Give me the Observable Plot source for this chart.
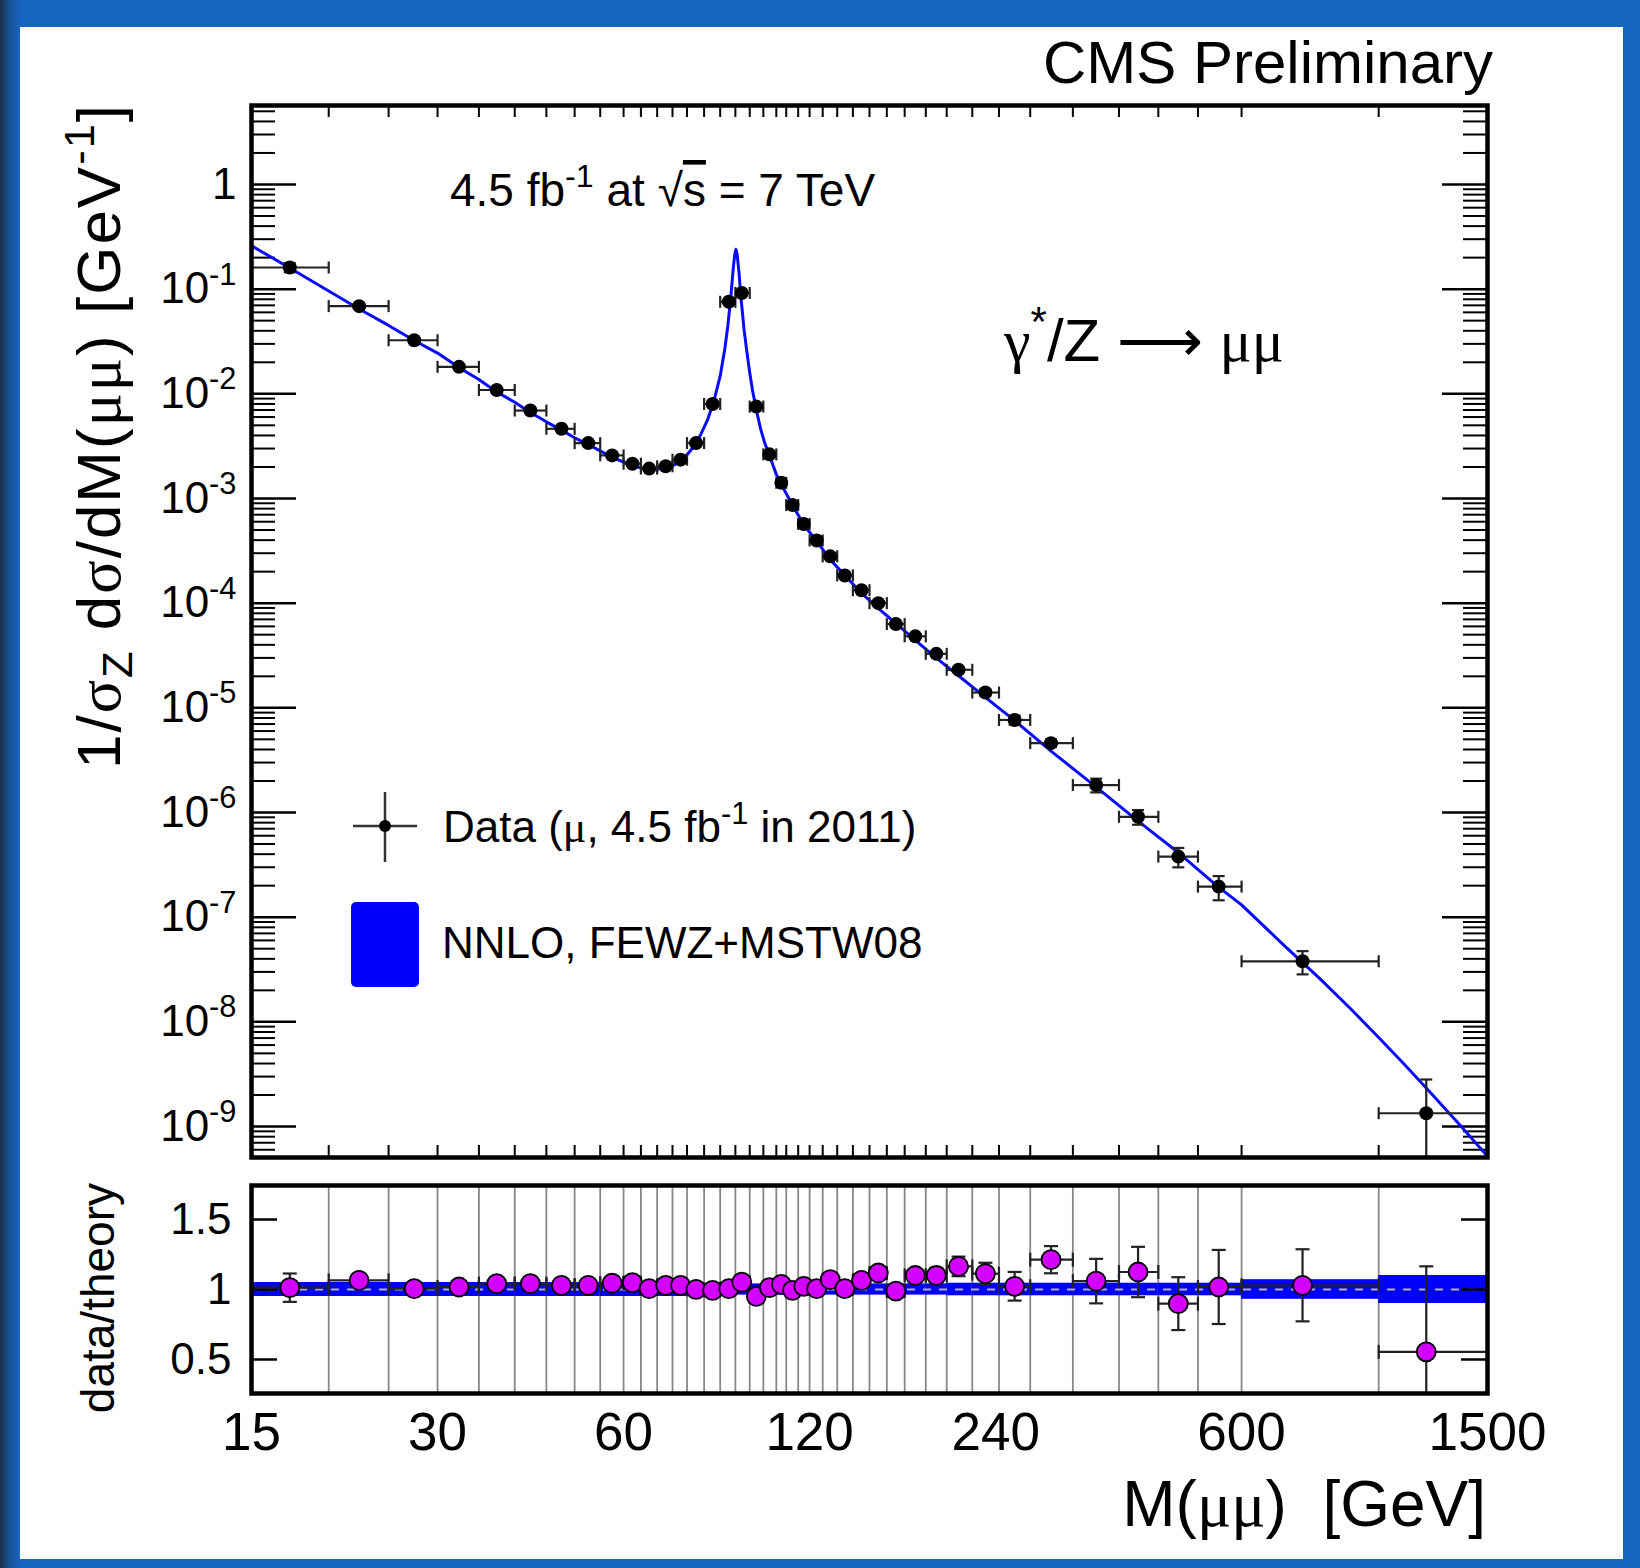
<!DOCTYPE html>
<html>
<head>
<meta charset="utf-8">
<script src="https://cdn.jsdelivr.net/npm/d3@7"></script>
<script src="https://cdn.jsdelivr.net/npm/@observablehq/plot@0.6"></script>
<style>
  html, body { margin:0; padding:0; overflow:hidden; background:#1565c0; }
  #fig { position:relative; width:1640px; height:1568px; overflow:hidden;
         background: linear-gradient(90deg, #1d2f48 0px, #1a4f93 9px, #1565c0 20px, #1565c0 100%); }
  #paper { position:absolute; left:20px; top:27px; width:1603px; height:1532px; background:#fff; }
  #fig > svg { position:absolute; left:0; }
</style>
</head>
<body>
<div id="fig"><div id="paper"></div></div>
<script>
// ---------------- data ----------------
const binLo = [15,20,25,30,35,40,45,50,55,60,64,68,72,76,81,86,91,96,101,106,110,115,120,126,133,141,150,160,171,185,200,220,243,273,320,380,440,510,600,1000];
const binHi = [20,25,30,35,40,45,50,55,60,64,68,72,76,81,86,91,96,101,106,110,115,120,126,133,141,150,160,171,185,200,220,243,273,320,380,440,510,600,1000,1500];
const massMean = [17.3,22.4,27.5,32.5,37.4,42.4,47.6,52.6,57.5,62,66,70.2,74.2,78.6,83.6,88.8,93.2,98.4,103.3,108,112.6,117.4,123.2,129.6,136.8,145.6,155,165.5,177.9,192.4,209,231,257.6,295,349,408,474,551,753,1194];
const dsigma = [0.161,0.0688,0.0325,0.0181,0.01087,0.00692,0.00463,0.00338,0.00258,0.00215,
  0.00193,0.00203,0.00235,0.00338,0.0080,0.0757,0.092,0.00755,0.00264,0.00141,
  0.000865,5.71e-4,3.97e-4,2.80e-4,1.84e-4,1.33e-4,1.0e-4,6.31e-5,4.82e-5,3.28e-5,
  2.31e-5,1.40e-5,7.66e-6,4.60e-6,1.83e-6,9.1e-7,3.79e-7,1.96e-7,3.79e-8,1.34e-9];
const relErr = [0.10,0.04,0.03,0.025,0.025,0.025,0.025,0.025,0.025,0.02,
  0.02,0.02,0.02,0.02,0.02,0.02,0.02,0.02,0.02,0.02,
  0.02,0.02,0.02,0.025,0.025,0.025,0.03,0.03,0.04,0.05,
  0.06,0.07,0.10,0.08,0.15,0.16,0.21,0.26,0.25,1.1];
const ratio = [1.013,1.065,1.006,1.018,1.042,1.042,1.030,1.030,1.046,1.049,
  1.006,1.03,1.03,1.001,0.994,1.006,1.053,0.951,1.013,1.037,
  0.994,1.023,1.006,1.07,1.006,1.065,1.118,0.989,1.10,1.10,
  1.165,1.113,1.023,1.213,1.06,1.125,0.899,1.018,1.03,0.555];
const bandHalf = [0.05,0.05,0.05,0.05,0.05,0.05,0.05,0.05,0.05,0.05,
  0.05,0.05,0.05,0.05,0.04,0.04,0.04,0.04,0.04,0.04,
  0.04,0.04,0.04,0.04,0.04,0.04,0.04,0.04,0.04,0.04,
  0.045,0.045,0.045,0.045,0.045,0.045,0.045,0.045,0.07,0.10];
const theoryMass = [15,17.3,20,22.4,25,27.5,30,32.5,35,37.4,40,42.4,45,47.6,50,52.6,55,57.5,60,62,64,66,68,70,72,74,76,78.5,80,82,84,86,87.5,88.5,89.5,90.3,90.8,91.2,91.6,92.2,93,94,95,96,97,98.5,100,101.5,103.5,106,108,112.5,117.5,123,129.5,137,145.5,155,165.5,178,192.5,210,231,258,296,350,410,475,550,600,700,800,900,1000,1100,1200,1350,1500];
const theoryVal = [0.26,0.159,0.096,0.0646,0.045,0.0323,0.0245,0.0178,0.0137,0.01043,0.0083,0.00664,0.0054,0.0045,0.0038,0.00328,0.00285,0.00247,0.00222,0.00205,0.00196,0.00192,0.00191,0.00194,0.00205,0.00226,0.00262,0.0033,0.0041,0.0056,0.0085,0.0148,0.027,0.045,0.086,0.16,0.215,0.24,0.215,0.148,0.079,0.041,0.025,0.016,0.0108,0.0068,0.0046,0.0034,0.0025,0.0017,0.00136,0.00087,0.000558,0.000395,0.000262,0.000183,0.000125,8.9e-5,6.4e-5,4.4e-5,2.98e-5,1.98e-5,1.26e-5,7.5e-6,3.8e-6,1.73e-6,8.1e-7,4.1e-7,1.95e-7,1.31e-7,5.5e-8,2.65e-8,1.34e-8,7.1e-9,3.93e-9,2.26e-9,1.05e-9,5.2e-10];
const yDecades = [1e-9,1e-8,1e-7,1e-6,1e-5,1e-4,1e-3,1e-2,1e-1,1];
const xTickLabels = [15,30,60,120,240,600,1500];
const ratioTicks = [0.5,1,1.5];

// ---------------- helpers ----------------
const FONT = "'Liberation Sans', Arial, Helvetica, sans-serif";
const SERIF = "'Liberation Serif', 'DejaVu Serif', serif";
const NS = "http://www.w3.org/2000/svg";
function rich(el, size) {
  const s = el.textContent;
  if (!/[\^_~!]\{/.test(s)) return;
  el.textContent = "";
  const re = /([\^_~!])\{([^}]*)\}|([^\^_~!]+)/g;
  let m, cur = 0;
  while ((m = re.exec(s))) {
    const t = document.createElementNS(NS, "tspan");
    let target = 0;
    if (m[1] === "^" || m[1] === "_") {
      target = m[1] === "^" ? -0.42 * size : 0.2 * size;
      t.setAttribute("font-size", 0.7 * size);
      t.textContent = m[2];
    } else if (m[1] === "~") {
      t.setAttribute("font-family", SERIF);
      t.textContent = m[2];
    } else if (m[1] === "!") {
      t.setAttribute("style", "text-decoration: overline");
      t.textContent = m[2];
    } else t.textContent = m[3];
    if (target !== cur) { t.setAttribute("dy", target - cur); cur = target; }
    el.appendChild(t);
  }
}

const pts = binLo.map((lo, i) => ({
  lo, hi: binHi[i], m: massMean[i], v: dsigma[i], r: ratio[i], band: bandHalf[i],
  vhi: dsigma[i] * (1 + relErr[i]),
  vlo: relErr[i] < 1 ? dsigma[i] * (1 - relErr[i]) : 1e-14,
  rhi: ratio[i] * (1 + relErr[i]),
  rlo: relErr[i] < 1 ? ratio[i] * (1 - relErr[i]) : -1,
  full: relErr[i] < 1
}));
const theory = theoryMass.map((m, i) => ({m, v: theoryVal[i]}));
const edges = [...binLo, binHi[binHi.length - 1]];
const innerEdges = edges.slice(1, -1);
const yDomain = [5.06e-10, 5.68];
const yMinor = d3.range(-10, 1).flatMap(e => d3.range(2, 10).map(k => k * Math.pow(10, e)))
  .filter(v => v > yDomain[0] && v < yDomain[1]);

const FW = 1236, MAINFH = 1052;
const vbar = {draw(c, s) { const r = Math.sqrt(s / Math.PI); c.moveTo(0, -r); c.lineTo(0, r); }};
const hbar = {draw(c, s) { const r = Math.sqrt(s / Math.PI); c.moveTo(-r, 0); c.lineTo(r, 0); }};
const common = {
  width: 1640, marginLeft: 251, marginRight: 153,
  style: {background: "transparent", maxWidth: "none", fontFamily: FONT, color: "black", overflow: "visible"}
};
const ERR = "#222";

// ---------------- main panel ----------------
const main = Plot.plot({
  ...common, height: 1170, marginTop: 105, marginBottom: 13,
  x: {type: "log", domain: [15, 1500], axis: null, label: null},
  y: {type: "log", domain: yDomain, label: null},
  marks: [
    Plot.tickY(yMinor, {y: d => d, insetRight: FW - 24, stroke: "black", strokeWidth: 2}),
    Plot.tickY(yMinor, {y: d => d, insetLeft: FW - 24, stroke: "black", strokeWidth: 2}),
    Plot.tickY(yDecades, {y: d => d, insetRight: FW - 45, stroke: "black", strokeWidth: 2.5}),
    Plot.tickY(yDecades, {y: d => d, insetLeft: FW - 45, stroke: "black", strokeWidth: 2.5}),
    Plot.tickX(edges, {x: d => d, insetBottom: MAINFH - 12, stroke: "black", strokeWidth: 2}),
    Plot.tickX(edges, {x: d => d, insetTop: MAINFH - 12, stroke: "black", strokeWidth: 2}),
    Plot.axisY(yDecades, {anchor: "left", tickSize: 0, tickPadding: 15, fontSize: 44, label: null,
      tickFormat: d => d === 1 ? "1" : `10^{${Math.round(Math.log10(d))}}`}),
    Plot.line(theory, {x: "m", y: "v", stroke: "#0a0aff", strokeWidth: 3, clip: true}),
    Plot.ruleY(pts, {y: "v", x1: "lo", x2: "hi", stroke: ERR, strokeWidth: 2.2}),
    Plot.ruleX(pts, {x: "m", y1: "vlo", y2: "vhi", stroke: ERR, strokeWidth: 2.2, clip: true}),
    Plot.dot(pts, {x: "lo", y: "v", symbol: vbar, r: 6, stroke: ERR, strokeWidth: 2.2, fill: "none"}),
    Plot.dot(pts, {x: "hi", y: "v", symbol: vbar, r: 6, stroke: ERR, strokeWidth: 2.2, fill: "none"}),
    Plot.dot(pts, {x: "m", y: "vhi", symbol: hbar, r: 6, stroke: ERR, strokeWidth: 2.2, fill: "none"}),
    Plot.dot(pts, {filter: d => d.full, x: "m", y: "vlo", symbol: hbar, r: 6, stroke: ERR, strokeWidth: 2.2, fill: "none"}),
    Plot.dot(pts, {x: "m", y: "v", r: 7, fill: "black", stroke: "none"}),
    Plot.frame({stroke: "black", strokeWidth: 4.5})
  ]
});

// ---------------- ratio panel ----------------
const ratioPlot = Plot.plot({
  ...common, height: 398, marginTop: 15, marginBottom: 175,
  x: {type: "log", domain: [15, 1500], label: null},
  y: {domain: [0.257, 1.743], label: null},
  marks: [
    Plot.ruleX(innerEdges, {x: d => d, stroke: "#888", strokeWidth: 1.8}),
    Plot.rect(pts, {x1: "lo", x2: "hi", y1: d => 1 - d.band, y2: d => 1 + d.band, fill: "#0000ff"}),
    Plot.ruleY([1], {y: d => d, stroke: "#b4b4b4", strokeWidth: 2, strokeDasharray: "8,8"}),
    Plot.tickY(ratioTicks, {y: d => d, insetRight: FW - 26, stroke: "black", strokeWidth: 2.5}),
    Plot.tickY(ratioTicks, {y: d => d, insetLeft: FW - 26, stroke: "black", strokeWidth: 2.5}),
    Plot.axisY(ratioTicks, {anchor: "left", tickSize: 0, tickPadding: 20, fontSize: 44, label: null, tickFormat: d => String(d)}),
    Plot.axisX(xTickLabels, {anchor: "bottom", tickSize: 0, tickPadding: 19, fontSize: 53, label: null, tickFormat: d => String(d)}),
    Plot.ruleY(pts, {y: "r", x1: "lo", x2: "hi", stroke: ERR, strokeWidth: 2.2}),
    Plot.ruleX(pts, {x: "m", y1: "rlo", y2: "rhi", stroke: ERR, strokeWidth: 2.2, clip: true}),
    Plot.dot(pts, {x: "lo", y: "r", symbol: vbar, r: 7, stroke: ERR, strokeWidth: 2.2, fill: "none"}),
    Plot.dot(pts, {x: "hi", y: "r", symbol: vbar, r: 7, stroke: ERR, strokeWidth: 2.2, fill: "none"}),
    Plot.dot(pts, {x: "m", y: "rhi", symbol: hbar, r: 7, stroke: ERR, strokeWidth: 2.2, fill: "none"}),
    Plot.dot(pts, {filter: d => d.full, x: "m", y: "rlo", symbol: hbar, r: 7, stroke: ERR, strokeWidth: 2.2, fill: "none"}),
    Plot.dot(pts, {x: "m", y: "r", r: 9.5, fill: "#d400ff", stroke: "black", strokeWidth: 1.8}),
    Plot.frame({stroke: "black", strokeWidth: 4.5})
  ]
});

const fig = document.getElementById("fig");
main.style.top = "0px";
ratioPlot.style.top = "1170px";
fig.appendChild(main);
fig.appendChild(ratioPlot);
main.querySelectorAll("text").forEach(t => rich(t, 44));

// ---------------- annotations & legend ----------------
const ov = d3.select(fig).append("svg")
  .attr("width", 1640).attr("height", 1568)
  .style("top", "0px").attr("font-family", FONT);
function txt(x, y, size, str, opts = {}) {
  const t = ov.append("text").attr("x", x).attr("y", y).attr("font-size", size).attr("fill", "black");
  if (opts.anchor) t.attr("text-anchor", opts.anchor);
  if (opts.rotate) t.attr("transform", `rotate(${opts.rotate},${x},${y})`);
  if (opts.length) t.attr("textLength", opts.length).attr("lengthAdjust", "spacing");
  t.text(str);
  rich(t.node(), size);
  return t;
}
txt(1493, 83, 60, "CMS Preliminary", {anchor: "end"});
txt(450, 206, 46, "4.5 fb^{-1} at √!{s} = 7 TeV");
txt(1004, 361, 60, "~{γ}^{*}/Z ⟶ ~{μμ}");
txt(120, 105, 62, "1/~{σ}_{Z} d~{σ}/dM(~{μμ}) [GeV^{-1}]", {anchor: "end", rotate: -90, length: 664});
txt(114, 1183, 46, "data/theory", {anchor: "end", rotate: -90});
txt(1486, 1526, 64, "M(~{μμ})\u00a0\u00a0[GeV]", {anchor: "end"});

// legend
ov.append("line").attr("x1", 353).attr("x2", 417).attr("y1", 826).attr("y2", 826).attr("stroke", "#333").attr("stroke-width", 2.5);
ov.append("line").attr("x1", 385).attr("x2", 385).attr("y1", 792).attr("y2", 862).attr("stroke", "#333").attr("stroke-width", 2.5);
ov.append("circle").attr("cx", 385).attr("cy", 826).attr("r", 6).attr("fill", "black");
txt(443, 842, 44, "Data (~{μ}, 4.5 fb^{-1} in 2011)");
ov.append("rect").attr("x", 351).attr("y", 902).attr("width", 68).attr("height", 85).attr("rx", 5).attr("fill", "#0000ff");
txt(442, 958, 44, "NNLO, FEWZ+MSTW08");
</script>
</body>
</html>
